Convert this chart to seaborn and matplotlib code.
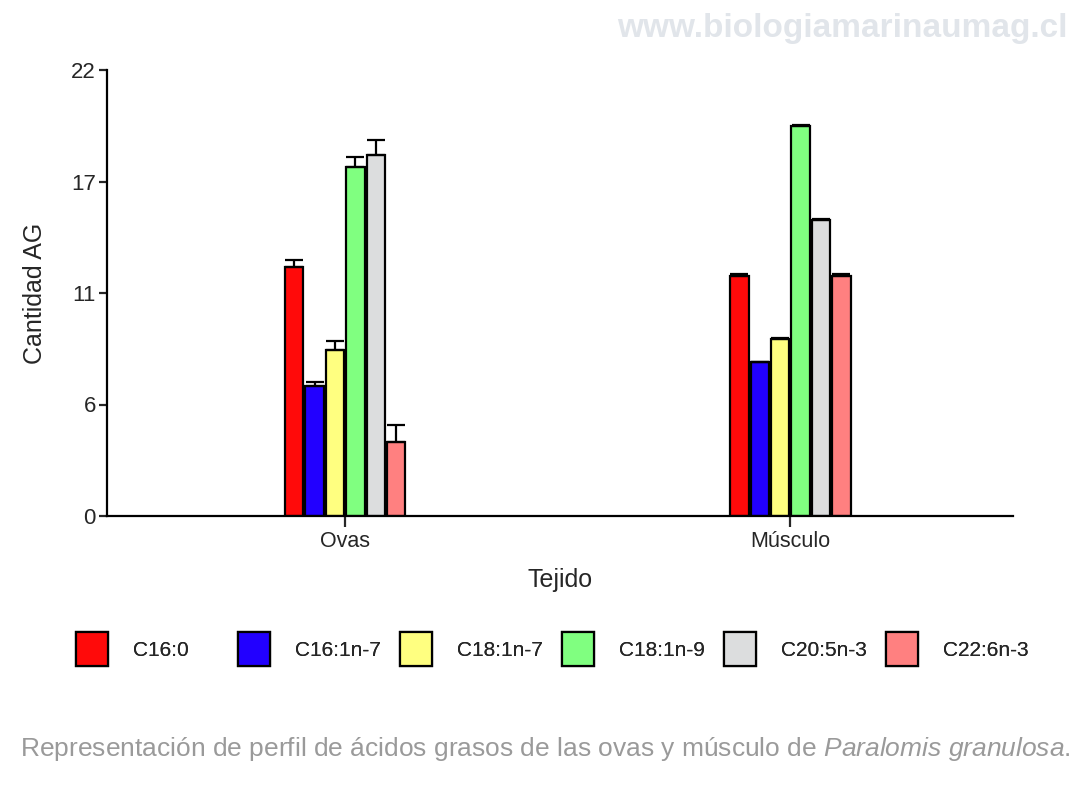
import matplotlib
matplotlib.use("Agg")
import matplotlib.pyplot as plt
from matplotlib.patches import Patch
import seaborn as sns
import pandas as pd

# ---- data ----
tissues = ["Ovas", "Músculo"]
acids = ["C16:0", "C16:1n-7", "C18:1n-7", "C18:1n-9", "C20:5n-3", "C22:6n-3"]
ovas_mean = [12.3, 6.4, 8.2, 17.2, 17.8, 3.65]
ovas_err = [0.33, 0.22, 0.43, 0.5, 0.75, 0.85]
musculo_mean = [11.85, 7.6, 8.75, 19.25, 14.6, 11.85]
musculo_err = [0.08, 0.0, 0.05, 0.05, 0.05, 0.08]
colors = ["#ff0a0a", "#2200ff", "#ffff80", "#80ff80", "#dcddde", "#ff8080"]
yticks = [0, 5.5, 11, 16.5, 22]
ytick_labels = ["0", "6", "11", "17", "22"]

sns.set_style("white")
plt.rcParams["font.family"] = ["Liberation Sans", "DejaVu Sans"]
plt.rcParams["mathtext.fontset"] = "custom"
plt.rcParams["mathtext.rm"] = "Liberation Sans"
plt.rcParams["mathtext.it"] = "Liberation Sans:italic"

rows = []
for t, means in zip(tissues, [ovas_mean, musculo_mean]):
    for a, v in zip(acids, means):
        rows.append({"Tejido": t, "Acido": a, "Cantidad": v})
df = pd.DataFrame(rows)
errs = ovas_err + musculo_err

fig = plt.figure(figsize=(10.8, 8.1), dpi=100)
fig.patch.set_facecolor("white")
ax = fig.add_axes([107 / 1080, 1 - 516 / 810, (1013 - 107) / 1080, (516 - 70) / 810])

sns.barplot(data=df, x="Tejido", y="Cantidad", hue="Acido", hue_order=acids,
            order=tissues, palette=colors, width=0.275, gap=0.1,
            edgecolor="black", linewidth=1.6, errorbar=None, legend=False,
            saturation=1, ax=ax)

bars = sorted([p for p in ax.patches], key=lambda p: p.get_x())
for p, e in zip(bars, errs):
    xc = p.get_x() + p.get_width() / 2
    h = p.get_height()
    ax.errorbar([xc], [h], yerr=[[0], [e]], fmt="none", ecolor="black",
                elinewidth=1.6, capsize=6.5, capthick=1.6, zorder=1)

ax.set_xlim(-0.535, 1.5)
ax.set_ylim(0, 22)
ax.set_yticks(yticks)
ax.set_yticklabels(ytick_labels)
sns.despine(ax=ax)
for s in ["left", "bottom"]:
    ax.spines[s].set_linewidth(1.6)
    ax.spines[s].set_color("black")
ax.tick_params(axis="y", direction="out", length=6, width=1.6, labelsize=16, pad=2, left=True)
ax.tick_params(axis="x", direction="out", length=8, width=1.6, labelsize=15.5, pad=3, bottom=True)
ax.set_ylabel("Cantidad AG", fontsize=18, labelpad=17)
ax.set_xlabel("Tejido", fontsize=18, labelpad=11)

# legend entries at fixed spacing
for i, (a, c) in enumerate(zip(acids, colors)):
    h = Patch(facecolor=c, edgecolor="black", linewidth=1.6)
    leg = fig.legend(handles=[h], labels=[a], loc="center left",
                     bbox_to_anchor=((76 + 162 * i) / 1080, 1 - 649 / 810),
                     frameon=False, fontsize=15, handlelength=1.55,
                     handleheight=2.07, handletextpad=1.2, borderpad=0,
                     borderaxespad=0)
    fig.add_artist(leg)

fig.text(1068 / 1080, 1 - 28 / 810, "www.biologiamarinaumag.cl", ha="right",
         va="center", fontsize=24, fontweight="bold", color="#e1e5ea")
fig.text(20 / 1080, 1 - 749 / 810,
         r"Representación de perfil de ácidos grasos de las ovas y músculo de $\mathit{Paralomis\ granulosa}$.",
         ha="left", va="center", fontsize=19, color="#9a9a9a")

fig.savefig("out.png", dpi=100, facecolor="white")
